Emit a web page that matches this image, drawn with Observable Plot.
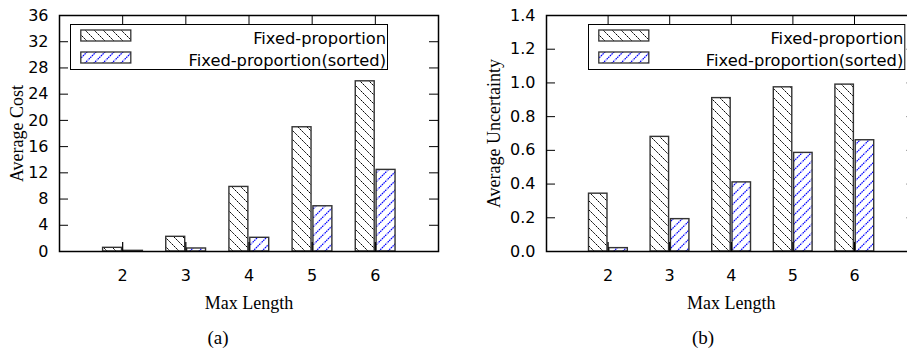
<!DOCTYPE html>
<html>
<head>
<meta charset="utf-8">
<script src="https://cdn.jsdelivr.net/npm/d3@7"></script>
<script src="https://cdn.jsdelivr.net/npm/@observablehq/plot@0.6"></script>
<style>
  html, body { margin: 0; padding: 0; background: #fff; }
  #wrap { position: relative; width: 907px; height: 350px; overflow: hidden; background: #fff; }
  .panel { position: absolute; top: 0; }
  .panel [aria-label*="axis"] text { font-size: 16px; font-family: "DejaVu Sans"; fill: #000; }
  .legend { position: absolute; overflow: visible; }
</style>
</head>
<body>
<svg width="0" height="0" style="position:absolute">
  <defs>
    <pattern id="hbk" patternUnits="userSpaceOnUse" width="9" height="9">
      <rect width="9" height="9" fill="#fff"/>
      <path d="M-1,-1 L10,10 M-1,8 L1,10 M8,-1 L10,1" stroke="#000" stroke-width="1" stroke-dasharray="2 0.6"/>
    </pattern>
    <pattern id="hbl" patternUnits="userSpaceOnUse" width="9" height="9">
      <rect width="9" height="9" fill="#fff"/>
      <path d="M-1,10 L10,-1 M-1,1 L1,-1 M8,10 L10,8" stroke="#0000ff" stroke-width="1.2" stroke-dasharray="1.6 0.7"/>
    </pattern>
  </defs>
</svg>
<div id="wrap"></div>
<script>
// ---- data ----
const categories = [2, 3, 4, 5, 6];
const seriesNames = ["Fixed-proportion", "Fixed-proportion(sorted)"];
const costFixed = [0.56, 2.24, 9.85, 18.95, 25.96];
const costSorted = [0.1, 0.46, 2.09, 6.9, 12.45];
const uncFixed = [0.343, 0.68, 0.91, 0.974, 0.99];
const uncSorted = [0.02, 0.192, 0.41, 0.585, 0.66];
const costTicks = [0, 4, 8, 12, 16, 20, 24, 28, 32, 36];
const uncTicks = [0, 0.2, 0.4, 0.6, 0.8, 1.0, 1.2, 1.4];
const xLabel = "Max Length";
const yLabels = ["Average Cost", "Average Uncertainty"];
const panelTags = ["(a)", "(b)"];

const SANS = "DejaVu Sans";
const SERIF = "Liberation Serif";
const wrap = document.getElementById("wrap");

function panel({fixed, sorted, yDomain, yTicks, yFormat, yLabel, tag, width, left, marginLeft, marginRight, yLabelDx, tagDx}) {
  const height = 350, marginTop = 15, marginBottom = 99;
  const fw = width - marginLeft - marginRight;
  const fh = height - marginTop - marginBottom;
  const rows = categories.map((c, i) => ({c, a: fixed[i], b: sorted[i]}));
  const chart = Plot.plot({
    width, height, marginLeft, marginRight, marginTop, marginBottom,
    style: {fontFamily: SANS, fontSize: "16px", color: "#000", background: "transparent", overflow: "visible"},
    x: {type: "linear", domain: [1, 7], ticks: categories, tickSize: 0, tickPadding: 18, tickFormat: d => String(d), label: null},
    y: {domain: yDomain, ticks: yTicks, tickSize: 0, tickPadding: 11, tickFormat: yFormat, label: null},
    marks: [
      Plot.rectY(rows, {x1: d => d.c - 0.31, x2: d => d.c - 0.01, y: "a", fill: "url(#hbk)", stroke: "#333", strokeWidth: 1.4}),
      Plot.rectY(rows, {x1: d => d.c + 0.02, x2: d => d.c + 0.32, y: "b", fill: "url(#hbl)", stroke: "#333", strokeWidth: 1.4}),
      Plot.tickY(yTicks, {y: d => d, insetRight: fw - 9, stroke: "#000", strokeWidth: 1}),
      Plot.tickY(yTicks, {y: d => d, insetLeft: fw - 9, stroke: "#000", strokeWidth: 1}),
      Plot.tickX(categories, {x: d => d, insetBottom: fh - 9, stroke: "#000", strokeWidth: 1}),
      Plot.tickX(categories, {x: d => d, insetTop: fh - 9, stroke: "#000", strokeWidth: 1.2}),
      Plot.frame({stroke: "#000", strokeWidth: 1.5}),
      Plot.text([yLabel], {text: d => d, frameAnchor: "left", textAnchor: "middle", dx: yLabelDx, rotate: -90, fontFamily: SERIF, fontSize: 18, fill: "#000"}),
      Plot.text([xLabel], {text: d => d, frameAnchor: "bottom", textAnchor: "middle", dy: 57, fontFamily: SERIF, fontSize: 18, fill: "#000"}),
      Plot.text([tag], {text: d => d, frameAnchor: "bottom-left", dx: tagDx, dy: 92, textAnchor: "middle", fontFamily: SERIF, fontSize: 19, fill: "#000"})
    ]
  });
  chart.classList.add("panel");
  chart.style.left = left + "px";
  wrap.appendChild(chart);
}

function legend({left, top, width}) {
  const h = 45;
  const svg = d3.select(wrap).append("svg").attr("class", "legend")
    .attr("width", width + 2).attr("height", h + 2)
    .style("left", left + "px").style("top", top + "px");
  svg.append("rect").attr("x", 0.5).attr("y", 0.5).attr("width", width).attr("height", h)
    .attr("fill", "#fff").attr("stroke", "#000").attr("stroke-width", 1);
  const fills = ["url(#hbk)", "url(#hbl)"];
  seriesNames.forEach((name, i) => {
    const y = 6 + i * 22;
    svg.append("rect").attr("x", 10.8).attr("y", y).attr("width", 50).attr("height", 11)
      .attr("fill", fills[i]).attr("stroke", "#333").attr("stroke-width", 1.3);
    svg.append("text").attr("x", width - 1).attr("y", y + 13.7)
      .attr("text-anchor", "end").attr("font-family", SANS).attr("font-size", 16.3)
      .attr("fill", "#000").text(name);
  });
}

panel({fixed: costFixed, sorted: costSorted, yDomain: [0, 36], yTicks: costTicks,
  yFormat: d => String(d), yLabel: yLabels[0], tag: panelTags[0],
  width: 460, left: 0, marginLeft: 59, marginRight: 22, yLabelDx: -42, tagDx: 158.5});
panel({fixed: uncFixed, sorted: uncSorted, yDomain: [0, 1.4], yTicks: uncTicks,
  yFormat: d3.format(".1f"), yLabel: yLabels[1], tag: panelTags[1],
  width: 480, left: 460, marginLeft: 86, marginRight: 24.4, yLabelDx: -52, tagDx: 156.5});
legend({left: 69.7, top: 24, width: 317});
legend({left: 587.7, top: 24, width: 316.3});
</script>
</body>
</html>
